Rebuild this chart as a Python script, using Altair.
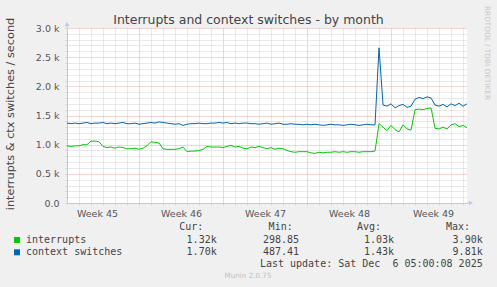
import altair as alt
import pandas as pd

# ---------------- data ----------------
# sample grid: one sample every 1/3 day across the month window
days = [i / 3 for i in range(101)]

interrupts = [
    980, 970, 980, 980, 1000, 1000, 1060, 1060, 1050, 970,
    950, 960, 940, 960, 950, 930, 930, 940, 920, 940,
    980, 1050, 1040, 1030, 930, 920, 920, 920, 930, 960,
    880, 890, 890, 900, 920, 970, 960, 960, 960, 950,
    970, 990, 960, 970, 940, 930, 960, 950, 970, 950,
    930, 950, 920, 940, 930, 900, 880, 870, 880, 880,
    880, 860, 850, 870, 860, 870, 870, 880, 870, 880,
    870, 880, 880, 870, 880, 880, 880, 890, 1360, 1300,
    1240, 1330, 1260, 1220, 1340, 1270, 1250, 1600, 1610, 1600,
    1620, 1630, 1280, 1270, 1300, 1270, 1340, 1360, 1310, 1330,
    1290,
]

context_switches = [
    1370, 1360, 1370, 1360, 1370, 1380, 1360, 1370, 1370, 1380,
    1360, 1370, 1360, 1370, 1380, 1360, 1360, 1370, 1350, 1360,
    1370, 1380, 1370, 1390, 1380, 1370, 1360, 1350, 1360, 1330,
    1350, 1360, 1360, 1370, 1360, 1360, 1370, 1370, 1380, 1370,
    1380, 1360, 1370, 1360, 1370, 1370, 1360, 1360, 1350, 1360,
    1370, 1350, 1360, 1370, 1350, 1350, 1360, 1350, 1350, 1340,
    1350, 1340, 1350, 1340, 1330, 1340, 1350, 1340, 1340, 1330,
    1340, 1350, 1340, 1330, 1340, 1350, 1340, 1340, 2660, 1680,
    1660, 1700, 1630, 1670, 1690, 1640, 1660, 1780, 1810, 1790,
    1820, 1800, 1680, 1660, 1690, 1650, 1700, 1670, 1710, 1660,
    1700,
]

series_names = ["interrupts", "context switches"]
series_colors = ["#00CC00", "#0066B3"]

# axis ticks / labels
x_grid_days = list(range(1, 34))
week_pos = [2.5, 9.5, 16.5, 23.5, 30.5]
week_labels = ["Week 45", "Week 46", "Week 47", "Week 48", "Week 49"]
y_grid_vals = list(range(0, 3001, 100))

# legend table
leg_cur = ["1.32k", "1.70k"]
leg_min = ["298.85", "487.41"]
leg_avg = ["1.03k", "1.43k"]
leg_max = ["3.90k", "9.81k"]
last_update = "Last update: Sat Dec \u00a06 05:00:08 2025"

title_text = "Interrupts and context switches - by month"
y_title = "interrupts & ctx switches / second"

# ---------------- layout ----------------
W, H = 400, 175
OX, OY = 67, 28
X_DOMAIN = [0, 33.33]
AXIS_COL = "#c4c4f0"
MINOR = "#d2d2d2"
MAJOR = "#e6a8a8"

df = pd.DataFrame({"day": days, "interrupts": interrupts,
                   "context switches": context_switches})
long = df.melt("day", var_name="series", value_name="value")

xscale = alt.Scale(domain=X_DOMAIN, nice=False, zero=False)
yscale = alt.Scale(domain=[0, 3000], nice=False)

y_label_expr = ("datum.value % 500 == 0 ? (datum.value == 0 ? '0.0' : "
                "format(datum.value/1000, '.1f') + ' k') : ''")

lines = alt.Chart(long).mark_line(strokeWidth=1).encode(
    x=alt.X("day:Q", scale=xscale, axis=alt.Axis(
        values=x_grid_days, grid=True,
        gridColor={"condition": {"test": "datum.value % 7 == 6", "value": MAJOR},
                   "value": MINOR},
        gridDash=[1, 1], labels=False, ticks=True, tickSize=2,
        tickColor=MINOR, domain=True, domainColor=AXIS_COL, title=None,
        orient="bottom")),
    y=alt.Y("value:Q", scale=yscale, axis=alt.Axis(
        values=y_grid_vals, grid=True,
        gridColor={"condition": {"test": "datum.value % 500 == 0", "value": MAJOR},
                   "value": MINOR},
        gridDash=[1, 1], labelExpr=y_label_expr, labelFont="DejaVu Sans",
        labelFontSize=9.5, labelColor="#555555", labelPadding=6,
        ticks=True, tickSize=2, tickColor=MINOR, domain=True,
        domainColor=AXIS_COL, title=None)),
    color=alt.Color("series:N", scale=alt.Scale(domain=series_names,
                                                range=series_colors),
                    legend=None),
    order=alt.Order("series:N", sort="ascending"),
)

wk_expr = "''"
for p, l in reversed(list(zip(week_pos, week_labels))):
    wk_expr = f"datum.value == {p} ? '{l}' : ({wk_expr})"

week_df = pd.DataFrame({"pos": week_pos, "label": week_labels})
week_axis = alt.Chart(week_df).mark_point(opacity=0).encode(
    x=alt.X("pos:Q", scale=xscale, axis=alt.Axis(
        values=week_pos, labelExpr=wk_expr, grid=False, ticks=False,
        domain=False, labelFont="DejaVu Sans", labelFontSize=9.5,
        labelColor="#555555", labelPadding=5, title=None, orient="bottom")),
    y=alt.value(0),
)

one = alt.Data(values=[{}])


def txt(s, x, y, size=10, color="#444444", align="left", baseline="middle",
        font="DejaVu Sans Mono", angle=None):
    kw = dict(text=s, fontSize=size, color=color, align=align,
              baseline=baseline, font=font)
    if angle is not None:
        kw["angle"] = angle
    return alt.Chart(one).mark_text(**kw).encode(
        x=alt.value(x - OX), y=alt.value(y - OY))


layers = [lines, week_axis]

# axis extensions + arrows
layers.append(alt.Chart(one).mark_rule(color=AXIS_COL, strokeWidth=1).encode(
    x=alt.value(0), y=alt.value(24 - OY), y2=alt.value(0)))
layers.append(alt.Chart(one).mark_rule(color=AXIS_COL, strokeWidth=1).encode(
    x=alt.value(W), x2=alt.value(471 - OX), y=alt.value(H)))
layers.append(alt.Chart(one).mark_point(shape="triangle-up", filled=True,
                                        size=22, color=AXIS_COL, opacity=1).encode(
    x=alt.value(0), y=alt.value(24 - OY)))
layers.append(alt.Chart(one).mark_point(shape="triangle-right", filled=True,
                                        size=22, color=AXIS_COL, opacity=1).encode(
    x=alt.value(471 - OX), y=alt.value(H)))

# titles
layers.append(txt(title_text, 248.5, 24, size=12.5, color="#444444",
                  align="center", baseline="alphabetic", font="DejaVu Sans"))
layers.append(txt(y_title, 11, 114, size=11.3, color="#444444", align="center",
                  baseline="middle", font="DejaVu Sans", angle=270))
layers.append(txt("RRDTOOL / TOBI OETIKER", 487, 53, size=7.3, color="#c8c8c8",
                  align="center", baseline="middle", font="DejaVu Sans",
                  angle=90))

# legend
hdr_y, row_y = 227.3, [240, 252.3]
for lab, xe in zip(["Cur:", "Min:", "Avg:", "Max:"], [203.3, 292.7, 381, 470]):
    layers.append(txt(lab, xe, hdr_y, align="right"))
for i, name in enumerate(series_names):
    ry = row_y[i]
    layers.append(alt.Chart(one).mark_square(size=36, color=series_colors[i],
                                             opacity=1).encode(
        x=alt.value(17 - OX), y=alt.value(ry - OY)))
    layers.append(txt(name, 26, ry))
    for vals, xe in zip([leg_cur, leg_min, leg_avg, leg_max],
                        [216.7, 299, 394, 482.7]):
        layers.append(txt(vals[i], xe, ry, align="right"))
layers.append(txt(last_update, 482.7, 263.5, align="right"))
layers.append(txt("Munin 2.0.75", 248, 276, size=7.2, color="#c0c0c0",
                  align="center", font="DejaVu Sans"))

chart = alt.layer(*layers).resolve_scale(x="shared").resolve_axis(
    x="independent").properties(
    width=W, height=H,
    autosize=alt.AutoSizeParams(type="none"),
    padding={"left": OX, "top": OY, "right": 497 - OX - W,
             "bottom": 287 - OY - H},
    background="#f0f0f0",
).configure_view(fill="white", stroke=None)

chart.save("out.html", embed_options={"renderer": "svg", "actions": False})
